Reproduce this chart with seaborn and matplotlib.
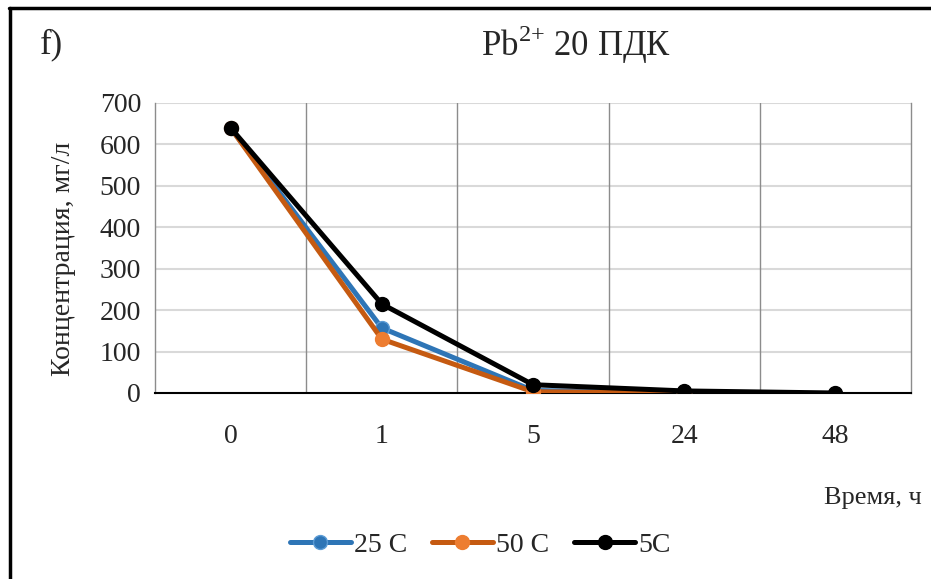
import matplotlib
matplotlib.use("Agg")
import matplotlib.pyplot as plt
import seaborn as sns
import pandas as pd
import numpy as np
from matplotlib.lines import Line2D

times = ["0", "1", "5", "24", "48"]
s25 = [640, 157, 6, 1, np.nan]
s50 = [640, 130, 3, 0, np.nan]
s5 = [640, 215, 20, 5, 0]
series_names = ["25 C", "50 C", "5C"]

sns.set_theme(style="white")
plt.rcParams['font.family'] = ['Liberation Serif', 'DejaVu Serif']
plt.rcParams['mathtext.fontset'] = 'custom'
plt.rcParams['mathtext.rm'] = 'Liberation Serif'

fig = plt.figure(figsize=(9.31, 5.79), dpi=100)
ax = fig.add_axes([155/931, 1-393/579, (911-155)/931, (393-103)/579])

pos = list(range(len(times)))
styles = [
    (s25, "#2E75B6", "#2E75B6", "#5B9BD5"),
    (s50, "#C55A11", "#ED7D31", "#ED7D31"),
    (s5, "#000000", "#000000", "#000000"),
]
handles = []
for (vals, lc, mfc, mec), name in zip(styles, series_names):
    df = pd.DataFrame({"x": pos, "y": vals}).dropna()
    sns.lineplot(data=df, x="x", y="y", ax=ax, color=lc, linewidth=3.6,
                 marker="o", markersize=10, markerfacecolor=mfc,
                 markeredgecolor=mec, markeredgewidth=1, zorder=3)
    handles.append(Line2D([], [], color=lc, linewidth=3.6, marker="o",
                          markersize=10, markerfacecolor=mfc, markeredgecolor=mec,
                          solid_capstyle="round"))

ax.set_xlim(-0.5, len(times) - 0.5)
ax.set_ylim(0, 700)
ax.set_yticks(range(0, 701, 100))
ax.set_xticks(pos)
ax.set_xticklabels(times)
ax.tick_params(axis="both", labelsize=20, length=0, pad=10)
ax.tick_params(axis="x", pad=22)
for y in range(100, 701, 100):
    ax.axhline(y, color="#D9D9D9", linewidth=1.5, zorder=1)
for xb in np.arange(0.5, len(times) - 0.5, 1.0):
    ax.axvline(xb, color="#8C8C8C", linewidth=1, zorder=1)
ax.spines["top"].set_visible(False)
ax.spines["left"].set_color("#8C8C8C")
ax.spines["left"].set_linewidth(1)
ax.spines["right"].set_color("#8C8C8C")
ax.spines["right"].set_linewidth(1)
ax.spines["bottom"].set_color("#000000")
ax.spines["bottom"].set_linewidth(1.5)
ax.set_xlabel("")
ax.set_ylabel("Концентрация, мг/л", fontsize=20)
ax.yaxis.set_label_coords((76 - 155) / 756, (393 - 259) / 290)

fig.text(873/931, 1-498/579, "Время, ч", fontsize=19, ha="center", va="center")
fig.text(576/931, 1-45/579, r"Pb$^{\mathrm{2{+}}}$ 20 ПДК", fontsize=25, ha="center", va="center")
fig.text(40/931, 1-45/579, "f)", fontsize=25, ha="left", va="center")

fig.legend(handles, series_names, loc="center", bbox_to_anchor=(480/931, 1-545/579),
           ncol=3, frameon=False, fontsize=20, handlelength=2.2, handletextpad=0.1,
           columnspacing=0.9)

fig.add_artist(Line2D([10/931, 10/931], [0, 1-8/579], color="black", linewidth=2.5,
                      transform=fig.transFigure))
fig.add_artist(Line2D([9/931, 1], [1-8/579, 1-8/579], color="black", linewidth=2.5,
                      transform=fig.transFigure))

fig.savefig("out.png", dpi=100)
